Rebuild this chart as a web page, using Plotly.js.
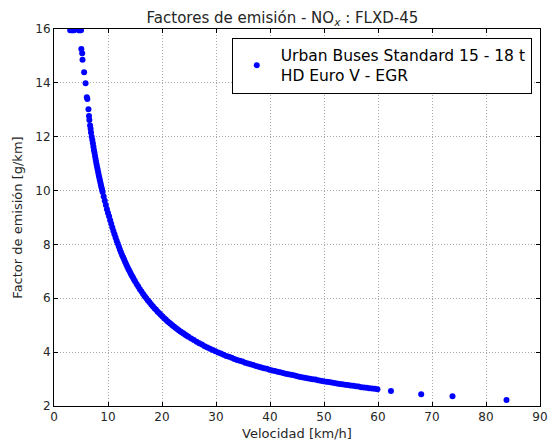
<!DOCTYPE html>
<html>
<head>
<meta charset="utf-8">
<script src="https://cdn.plot.ly/plotly-3.0.1.min.js"></script>
<style>html,body{margin:0;padding:0;background:#fff;}#chart{width:549px;height:447px;}</style>
</head>
<body>
<div id="chart"></div>
<script>
// Speeds [km/h] and NOx emission factors [g/km]
const velCap = [3.0, 3.3, 3.5, 3.7, 4.6, 4.8, 5.0];
const noxCap = [15.95, 15.95, 15.95, 15.95, 15.95, 15.95, 15.95];

const velLow = [5.06, 5.22, 5.28, 5.58, 5.85, 6.08, 6.18, 6.38, 6.48, 6.55, 6.68, 6.78, 6.85, 6.98,
  7.1, 7.2, 7.3, 7.4, 7.5, 7.6, 7.7, 7.8, 7.9, 8.0, 8.1, 8.2, 8.3, 8.4, 8.5, 8.6, 8.7, 8.8, 8.9, 9.0,
  9.2, 9.4, 9.6, 9.8, 10.0];
const noxLow = [15.26, 15.10, 14.86, 14.39, 13.99, 13.47, 13.40, 13.02, 12.77, 12.62, 12.42, 12.30, 12.16, 12.00,
  11.88, 11.76, 11.63, 11.51, 11.40, 11.28, 11.17, 11.06, 10.96, 10.86, 10.76, 10.66, 10.56, 10.47, 10.38, 10.29, 10.20, 10.11, 10.03, 9.95,
  9.78, 9.62, 9.46, 9.31, 9.17];

const velMid = [10.2, 10.4, 10.6, 10.8, 11.0, 11.2, 11.4, 11.6, 11.8, 12.0, 12.2, 12.4, 12.6, 12.8, 13.0,
  13.2, 13.4, 13.6, 13.8, 14.0, 14.2, 14.4, 14.6, 14.8, 15.0,
  15.3, 15.6, 15.9, 16.2, 16.5, 16.8, 17.1, 17.4, 17.7, 18.0, 18.3, 18.6, 18.9, 19.2, 19.5, 19.8,
  20.1, 20.4, 20.7, 21.0, 21.3, 21.6, 21.9, 22.2, 22.5, 22.8, 23.1, 23.4, 23.7, 24.0, 24.3, 24.6, 24.9];
const noxMid = [9.05, 8.90, 8.77, 8.63, 8.50, 8.38, 8.26, 8.14, 8.03, 7.92, 7.81, 7.71, 7.61, 7.52, 7.43,
  7.34, 7.25, 7.16, 7.08, 7.00, 6.92, 6.85, 6.78, 6.70, 6.63,
  6.53, 6.44, 6.34, 6.25, 6.16, 6.08, 6.00, 5.92, 5.85, 5.77, 5.70, 5.63, 5.57, 5.50, 5.44, 5.38,
  5.32, 5.26, 5.21, 5.15, 5.10, 5.05, 5.00, 4.95, 4.91, 4.86, 4.81, 4.77, 4.73, 4.69, 4.65, 4.61, 4.57];

const velHigh = [25.4, 25.9, 26.4, 26.9, 27.4, 27.9, 28.4, 28.9, 29.4, 29.9, 30.4, 30.9, 31.4, 31.9, 32.4, 32.9,
  33.4, 33.9, 34.4, 34.9, 35.4, 35.9, 36.4, 36.9, 37.4, 37.9, 38.4, 38.9, 39.4, 39.9, 40.4, 40.9, 41.4, 41.9,
  42.4, 42.9, 43.4, 43.9, 44.4, 44.9, 45.4, 45.9, 46.4, 46.9, 47.4, 47.9, 48.4, 48.9, 49.4, 49.9, 50.4, 50.9,
  51.4, 51.9, 52.4, 52.9, 53.4, 53.9, 54.4, 54.9, 55.4, 55.9, 56.4, 56.9, 57.4, 57.9, 58.4, 58.9, 59.4, 59.9];
const noxHigh = [4.51, 4.45, 4.39, 4.33, 4.28, 4.22, 4.17, 4.13, 4.08, 4.03, 3.99, 3.95, 3.90, 3.86, 3.83, 3.79,
  3.75, 3.71, 3.68, 3.65, 3.61, 3.58, 3.55, 3.52, 3.49, 3.46, 3.43, 3.40, 3.38, 3.35, 3.32, 3.30, 3.27, 3.25,
  3.23, 3.20, 3.18, 3.16, 3.14, 3.11, 3.09, 3.07, 3.05, 3.03, 3.01, 2.99, 2.98, 2.96, 2.94, 2.92, 2.90, 2.89,
  2.87, 2.85, 2.84, 2.82, 2.81, 2.79, 2.78, 2.76, 2.75, 2.73, 2.72, 2.70, 2.69, 2.68, 2.66, 2.65, 2.64, 2.62];

const velTail = [62.4, 68.0, 73.8, 83.8];
const noxTail = [2.56, 2.44, 2.36, 2.22];

const xTicks = [0, 10, 20, 30, 40, 50, 60, 70, 80, 90];
const yTicks = [2, 4, 6, 8, 10, 12, 14, 16];

const seriesName = 'Urban Buses Standard 15 - 18 t<br>HD Euro V - EGR';
const chartTitle = 'Factores de emisión - NO<sub><i>x</i></sub> : FLXD-45';
const xTitle = 'Velocidad [km/h]';
const yTitle = 'Factor de emisión [g/km]';

const xs = [].concat(velCap, velLow, velMid, velHigh, velTail);
const ys = [].concat(noxCap, noxLow, noxMid, noxHigh, noxTail);

const font = 'DejaVu Sans, sans-serif';
const txt = '#262626';

const trace = {
  x: xs, y: ys, type: 'scatter', mode: 'markers', name: seriesName,
  marker: {color: '#0000ff', size: 6, line: {width: 0}},
  cliponaxis: true, showlegend: true
};

const axisCommon = {
  showline: true, linecolor: '#000', linewidth: 1, mirror: 'ticks',
  ticks: 'inside', ticklen: 4, tickwidth: 1, tickcolor: '#000',
  showgrid: true, gridcolor: '#a8a8a8', griddash: '1px,2px', gridwidth: 1,
  zeroline: false, tickfont: {family: font, size: 12, color: txt}
};

const layout = {
  width: 549, height: 447,
  margin: {l: 54, r: 9, t: 29, b: 41},
  paper_bgcolor: '#fff', plot_bgcolor: '#fff',
  title: {text: chartTitle, font: {family: font, size: 15, color: txt},
    x: 0.47, xref: 'paper', xanchor: 'center', y: 1 - 18/447, yref: 'container', yanchor: 'middle'},
  xaxis: Object.assign({}, axisCommon, {range: [0, 90], tickvals: xTicks, ticktext: xTicks.map(String),
    title: {text: xTitle, font: {family: font, size: 13, color: txt}, standoff: 5}}),
  yaxis: Object.assign({}, axisCommon, {range: [2, 16], tickvals: yTicks, ticktext: yTicks.map(String),
    title: {text: yTitle, font: {family: font, size: 13, color: txt}, standoff: 9}}),
  showlegend: true,
  legend: {x: 0.983, xanchor: 'right', y: 0.977, yanchor: 'top',
    bgcolor: '#fff', bordercolor: '#000', borderwidth: 1, itemwidth: 38,
    font: {family: font, size: 15.5, color: '#000'}, itemsizing: 'trace'}
};

Plotly.newPlot('chart', [trace], layout, {staticPlot: true, displayModeBar: false});
</script>
</body>
</html>
